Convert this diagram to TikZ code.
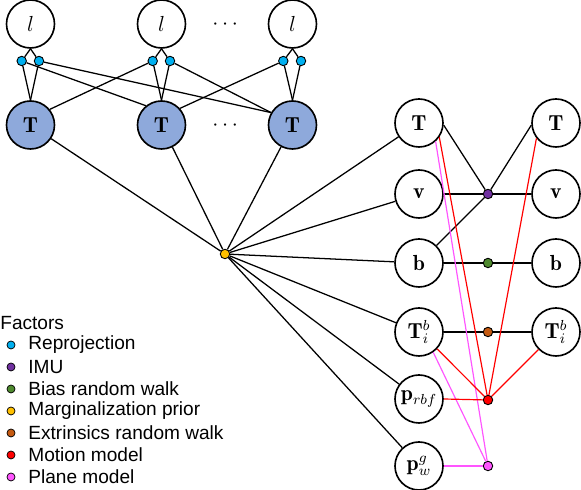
\documentclass[tikz,border=0pt]{standalone}
\usepackage{amsmath,amssymb}
\usepackage{fontspec}
\newfontfamily\legendfont{Liberation Sans}
\usepackage{tikz}
\usetikzlibrary{positioning}
\definecolor{poseblue}{HTML}{8EA9DB}
\definecolor{creproj}{HTML}{00B0F0}
\definecolor{cimu}{HTML}{7030A0}
\definecolor{cbias}{HTML}{4F8A2F}
\definecolor{cmarg}{HTML}{FFC000}
\definecolor{cext}{HTML}{C55A11}
\definecolor{cmot}{HTML}{FF0000}
\definecolor{cplane}{HTML}{FF55FF}
\tikzset{
  var/.style   ={circle,draw,line width=0.9pt,minimum size=26.4pt,inner sep=0pt,font=\large},
  pose/.style  ={var,fill=poseblue},
  fac/.style   ={circle,draw,line width=0.5pt,minimum size=5.2pt,inner sep=0pt},
  lgd/.style   ={circle,draw,line width=0.4pt,minimum size=4.4pt,inner sep=0pt},
  ln/.style    ={line width=0.7pt},
  lnred/.style ={line width=0.65pt,cmot},
  lnpl/.style  ={line width=0.65pt,cplane},
  txt/.style   ={font=\legendfont\fontsize{10.5}{12}\selectfont,inner sep=0pt,anchor=west},
}

\begin{document}
\begin{tikzpicture}[x=0.55pt,y=-0.55pt]
  \useasboundingbox (0,0) rectangle (581,490);
  % landmarks and poses
  \node[var] (l1) at (30.5,24) {$l$};
  \node[var] (l2) at (161.5,24) {$l$};
  \node[var] (l3) at (292.5,24) {$l$};
  \node[font=\large] (dl) at (227,25) {$\cdots$};
  \node[pose] (T1) at (30.5,125) {$\mathbf{T}$};
  \node[pose] (T2) at (161.5,125) {$\mathbf{T}$};
  \node[pose] (T3) at (292.5,125) {$\mathbf{T}$};
  \node[font=\large] (dT) at (227,126) {$\cdots$};
  % reprojection factors
  \node[fac,fill=creproj] (r1a) at (21.7,61) {};
  \node[fac,fill=creproj] (r1b) at (39,61) {};
  \node[fac,fill=creproj] (r2a) at (152.7,61) {};
  \node[fac,fill=creproj] (r2b) at (170,61) {};
  \node[fac,fill=creproj] (r3a) at (283.3,61) {};
  \node[fac,fill=creproj] (r3b) at (301,61) {};
  \foreach \i in {1,2,3}{
    \draw[ln] (l\i.south) -- (r\i a);
    \draw[ln] (l\i.south) -- (r\i b);
    \draw[ln] (r\i a) -- (T\i.north);
    \draw[ln] (r\i b) -- (T\i.north);
  }
  \draw[ln] (r1a) -- (T2.129);
  \draw[ln] (r1b) -- (T3.150);
  \draw[ln] (r2a) -- (T1.39);
  \draw[ln] (r2b) -- (T3.150);
  \draw[ln] (r3a) -- (T2.42);
  % current window
  \node[var] (Ta)  at (419,123) {$\mathbf{T}$};
  \node[var] (va)  at (419,194) {$\mathbf{v}$};
  \node[var] (ba)  at (419,263) {$\mathbf{b}$};
  \node[var] (Tia) at (419,332) {$\mathbf{T}_i^b$};
  \node[var] (pr)  at (419,399) {$\mathbf{p}_{rbf}$};
  \node[var] (pw)  at (419,466) {$\mathbf{p}_w^g$};
  \node[var] (Tb)  at (556,123) {$\mathbf{T}$};
  \node[var] (vb)  at (556,194) {$\mathbf{v}$};
  \node[var] (bb)  at (556,263) {$\mathbf{b}$};
  \node[var] (Tib) at (556,332) {$\mathbf{T}_i^b$};
  \node[fac,fill=cimu]   (fimu)  at (488,194) {};
  \node[fac,fill=cbias]  (fbias) at (488,263) {};
  \node[fac,fill=cext]   (fext)  at (488,332) {};
  \node[fac,fill=cmot]   (fmot)  at (488,400) {};
  \node[fac,fill=cplane] (fpl)   at (488,466) {};
  \node[fac,fill=cmarg]  (fmarg) at (225,254) {};
  % marginalization prior
  \foreach \n in {T1,T2,T3,Ta,va,ba,Tia,pr,pw}
    \draw[ln] (fmarg) -- (\n);
  % imu, bias, extrinsics
  \draw[ln] (Ta.-5) -- (fimu);
  \draw[ln] (va.east) -- (fimu);
  \draw[ln] (ba.45) -- (fimu);
  \draw[ln] (fimu) -- (Tb.185);
  \draw[ln] (fimu) -- (vb.west);
  \draw[ln] (ba.east) -- (fbias) -- (bb.west);
  \draw[ln] (Tia.east) -- (fext) -- (Tib.west);
  % motion and plane model
  \draw[lnpl] (Ta.-48) -- (fpl);
  \draw[lnpl] (Tia.-55) -- (fpl);
  \draw[lnpl] (pw.east) -- (fpl);
  \draw[lnred] (Ta.-35) -- (fmot);
  \draw[lnred] (Tb.218) -- (fmot);
  \draw[lnred] (Tia.-43) -- (fmot);
  \draw[lnred] (Tib.225) -- (fmot);
  \draw[lnred] (pr.east) -- (fmot);
  % legend
  \node[txt] (lgtitle) at (0,323) {Factors};
  \foreach \c/\t [count=\k] in {creproj/Reprojection,cimu/IMU,cbias/Bias random walk,
      cmarg/Marginalization prior,cext/Extrinsics random walk,cmot/Motion model,cplane/Plane model}{
    \node[lgd,fill=\c] (lg\k) at (11,323+22*\k) {};
    \node[txt] (lt\k) at (28,323+22*\k) {\t};
  }
\end{tikzpicture}
\end{document}
